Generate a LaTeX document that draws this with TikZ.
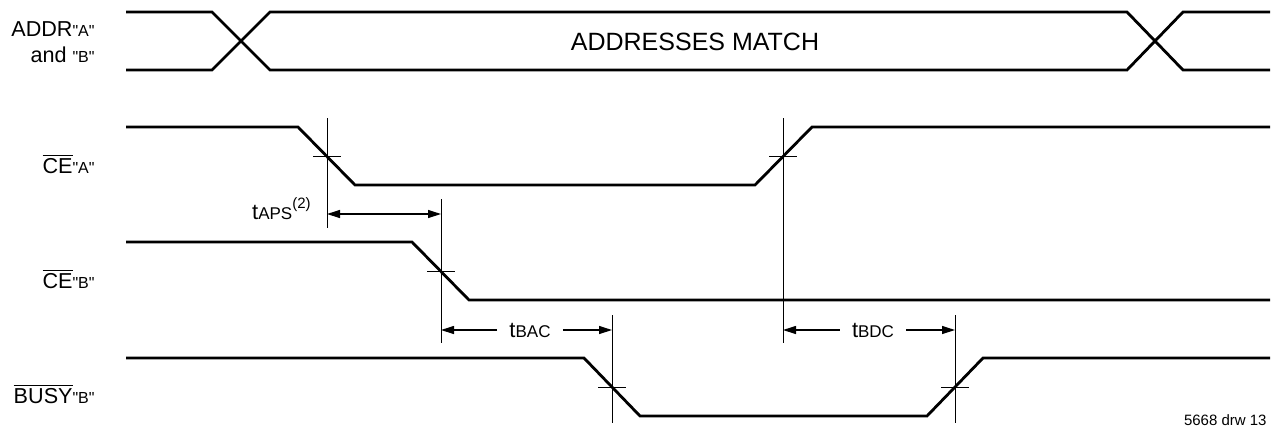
\documentclass[tikz,border=0pt]{standalone}
\usepackage{fontspec}
\setmainfont{Liberation Sans}[Ligatures=TeXOff]
\usetikzlibrary{arrows.meta}
% small quoted port letter and timing names
\newcommand{\port}[1]{{\fontsize{8}{9}\selectfont"#1"}}
\newcommand{\ovl}[1]{$\overline{\mbox{#1}}$}
\newcommand{\tname}[1]{t{\fontsize{8.5}{10}\selectfont #1}}
\begin{document}
\begin{tikzpicture}[x=0.5pt, y=-0.5pt,
    tip/.tip={Triangle[length=6.5pt,width=4pt]},
    sig/.style={line width=1.4pt, line join=miter},
    guide/.style={line width=0.5pt},
    dim/.style={line width=0.6pt, -tip},
    sname/.style={inner sep=0pt, anchor=base east, font=\fontsize{10.8}{12}\selectfont},
    tlabel/.style={inner xsep=6pt, inner ysep=0pt, font=\fontsize{11}{12}\selectfont}]
    \useasboundingbox (0,0) rectangle (1275,430);

    % signal names
    \node[sname] (addr) at (95,36) {ADDR\port{A}};
    \node[sname] (addrb) at (95,62) {and \port{B}};
    \node[sname] (cea) at (95,173) {\ovl{CE}\port{A}};
    \node[sname] (ceb) at (95,288) {\ovl{CE}\port{B}};
    \node[sname] (busy) at (95,403) {\ovl{BUSY}\port{B}};

    % waveforms
    \draw[sig] (126,12) -- (212,12) -- (270,70) -- (1127,70) -- (1183,12) -- (1270,12);
    \draw[sig] (126,70) -- (212,70) -- (270,12) -- (1127,12) -- (1183,70) -- (1270,70);
    \node[font=\fontsize{12.5}{14}\selectfont] (match) at (695,42) {ADDRESSES MATCH};
    \draw[sig] (126,127) -- (298,127) -- (355,185) -- (755,185) -- (812,127) -- (1270,127);
    \draw[sig] (126,242) -- (412,242) -- (469,300) -- (1270,300);
    \draw[sig] (126,358) -- (584,358) -- (640,416) -- (927,416) -- (983,358) -- (1270,358);

    % crossing points
    \coordinate (xa1) at (327,156);
    \coordinate (xa2) at (783,156);
    \coordinate (xb) at (441,271);
    \coordinate (xy1) at (612,387);
    \coordinate (xy2) at (955,387);

    \foreach \p/\top/\bot in {xa1/118/228, xa2/118/343, xb/199/343, xy1/315/423, xy2/315/423} {
        \draw[guide] (\p |- 0,\top) -- (\p |- 0,\bot);
        \draw[guide] ([xshift=-7pt]\p) -- ([xshift=7pt]\p);
    }

    % timing
    \draw[dim, tip-tip] (xa1 |- 0,214) -- (xb |- 0,214);
    \node[inner sep=0pt, anchor=base east, font=\fontsize{11}{12}\selectfont] (taps) at (311,219)
        {\tname{APS}\raisebox{5.5pt}{\fontsize{7.5}{8}\selectfont(2)}};
    \node[tlabel] (tbac) at (530,330) {\tname{BAC}};
    \draw[dim] (tbac) -- (xb |- tbac);
    \draw[dim] (tbac) -- (xy1 |- tbac);
    \node[tlabel] (tbdc) at (873,330) {\tname{BDC}};
    \draw[dim] (tbdc) -- (xa2 |- tbdc);
    \draw[dim] (tbdc) -- (xy2 |- tbdc);

    \node[inner sep=0pt, anchor=base east, font=\fontsize{7.5}{9}\selectfont] (drw) at (1267,425) {5668 drw 13};
\end{tikzpicture}
\end{document}
